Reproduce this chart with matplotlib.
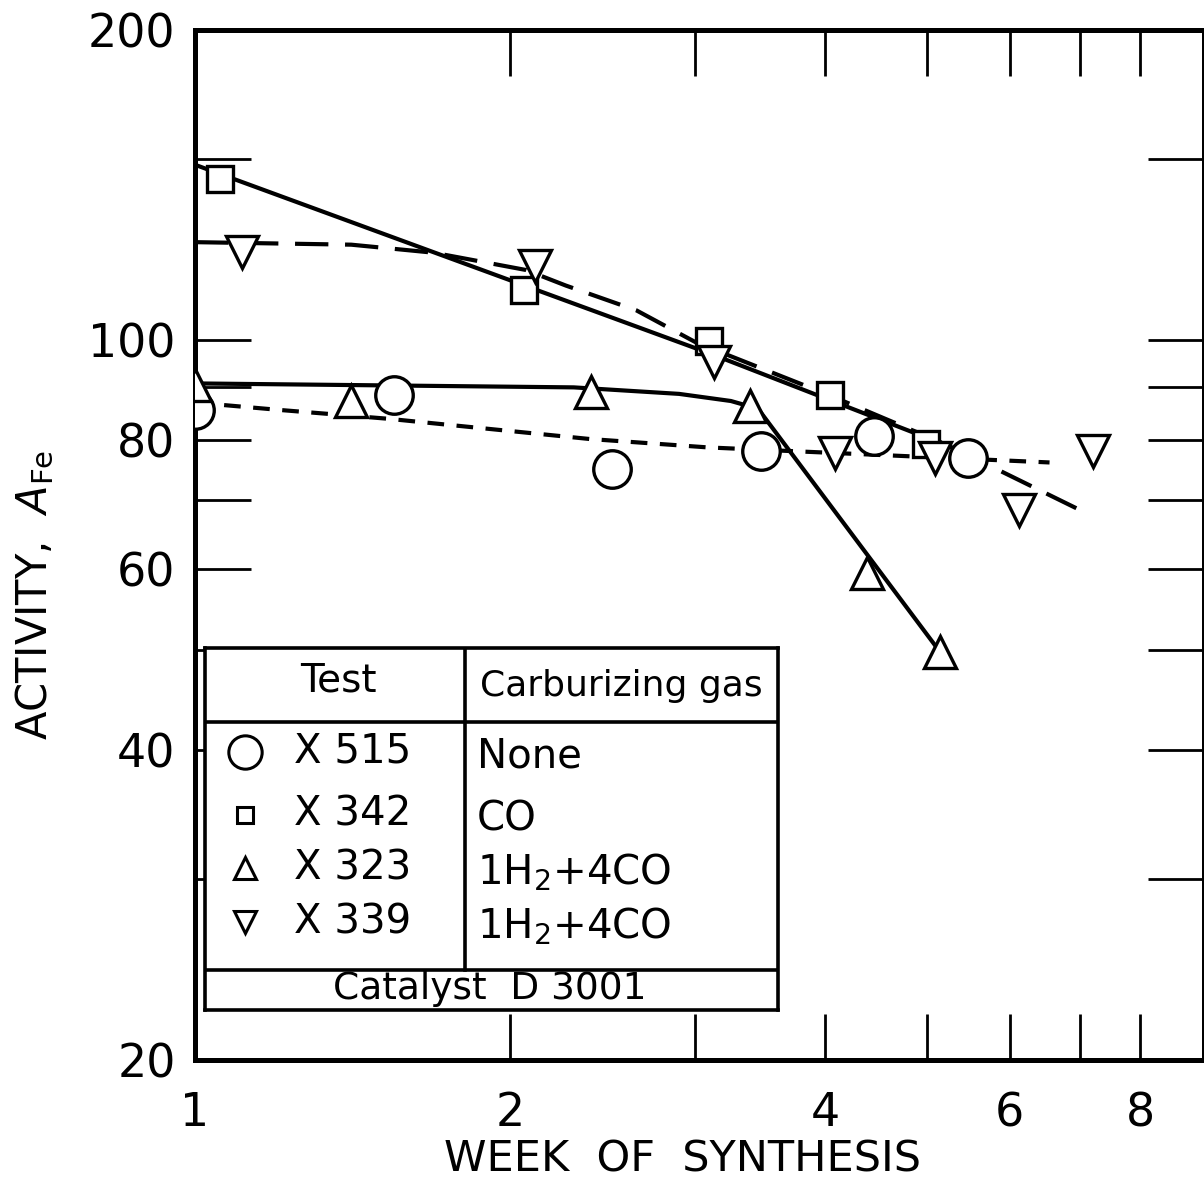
import matplotlib
matplotlib.use("Agg")
import matplotlib.pyplot as plt
from matplotlib.ticker import FixedLocator, FixedFormatter, NullLocator

plt.rcParams['font.family'] = ['DejaVu Sans']
plt.rcParams['mathtext.fontset'] = 'dejavusans'

# measured points (week, activity)
x515_w = [1.0, 1.55, 2.50, 3.47, 4.45, 5.48]
x515_a = [85.5, 88.4, 75.0, 78.0, 80.8, 76.9]
x342_w = [1.056, 2.06, 3.10, 4.04, 4.99]
x342_a = [143.3, 111.9, 99.8, 88.4, 79.3]
x323_w = [1.0, 1.41, 2.39, 3.39, 4.38, 5.15]
x323_a = [90.4, 87.3, 89.1, 86.3, 59.5, 49.8]
x339_w = [1.109, 2.11, 3.13, 4.09, 5.09, 6.12, 7.20]
x339_a = [121.8, 118.1, 95.2, 77.8, 76.8, 68.5, 78.0]

# hand-drawn curves
c515_w = [1.0, 1.20, 1.53, 2.38, 3.09, 6.55]
c515_a = [87.0, 85.6, 83.9, 80.2, 78.7, 76.1]
c342_w = [1.0, 3.11, 5.3]
c342_a = [148.0, 97.0, 78.6]
c323_w = [1.0, 2.3, 2.9, 3.25, 3.45, 5.15]
c323_a = [90.8, 90.0, 88.7, 87.3, 85.8, 49.8]
c339_w = [1.0, 1.41, 1.69, 2.07, 2.26, 2.64, 3.01, 4.04, 5.25, 7.05]
c339_a = [124.5, 123.8, 121.6, 117.0, 113.0, 106.9, 99.5, 88.4, 79.0, 68.2]

xticks = [1, 2, 3, 4, 5, 6, 7, 8]
xticklabels = ['1', '2', '', '4', '', '6', '', '8']
yticks = [20, 30, 40, 50, 60, 70, 80, 90, 100, 150, 200]
yticklabels = ['20', '', '40', '', '60', '', '80', '', '100', '', '200']

tests = ['X 515', 'X 342', 'X 323', 'X 339']
gases = ['None', 'CO', r'1H$_2$+4CO', r'1H$_2$+4CO']
marks = ['o', 's', '^', 'v']

fig = plt.figure(figsize=(12.04, 12.01), dpi=100)
ax = fig.add_axes([0.162, 0.117, 0.838, 0.858])
ax.set_xscale('log')
ax.set_yscale('log')
ax.set_xlim(1, 9.2)
ax.set_ylim(20, 200)

lw = 3.0
ax.plot(c515_w, c515_a, color='black', lw=lw, dashes=(4, 3), zorder=2)
ax.plot(c342_w, c342_a, color='black', lw=lw, zorder=2)
ax.plot(c323_w, c323_a, color='black', lw=lw, zorder=2)
ax.plot(c339_w, c339_a, color='black', lw=lw, dashes=(8, 4), zorder=2)

mk = dict(ls='none', mfc='white', mec='black', mew=2.4, zorder=3)
ax.plot(x515_w, x515_a, marker='o', ms=27, **mk)
ax.plot(x342_w, x342_a, marker='s', ms=19, **mk)
ax.plot(x323_w, x323_a, marker='^', ms=23, **mk)
ax.plot(x339_w, x339_a, marker='v', ms=23, **mk)

ax.xaxis.set_major_locator(FixedLocator(xticks))
ax.xaxis.set_major_formatter(FixedFormatter(xticklabels))
ax.xaxis.set_minor_locator(NullLocator())
ax.yaxis.set_major_locator(FixedLocator(yticks))
ax.yaxis.set_major_formatter(FixedFormatter(yticklabels))
ax.yaxis.set_minor_locator(NullLocator())
ax.tick_params(axis='x', which='major', direction='in', top=True, bottom=True,
               length=33, width=2, pad=22, labelsize=33)
ax.tick_params(axis='y', which='major', direction='in', left=True, right=True,
               length=40, width=2, pad=14, labelsize=33)
for s in ax.spines.values():
    s.set_linewidth(3.6)

fig.text(683 / 1204, 1 - 1160 / 1201, 'WEEK  OF  SYNTHESIS', ha='center', va='center',
         fontsize=31)
fig.text(35 / 1204, 1 - 595 / 1201, r'ACTIVITY,  $\mathit{A}_{\mathrm{Fe}}$', rotation=90,
         ha='center', va='center', fontsize=30)

# legend table
tb = fig.add_axes([205 / 1204, 1 - 1010 / 1201, 573 / 1204, 362 / 1201])
tb.set_xlim(0, 1)
tb.set_ylim(0, 1)
tb.set_xticks([])
tb.set_yticks([])
for s in tb.spines.values():
    s.set_linewidth(2.6)
tb.axhline(0.796, color='black', lw=2.6)
tb.axhline(0.111, color='black', lw=2.6)
tb.plot([0.454, 0.454], [0.111, 1.0], color='black', lw=2.6)
tb.text(0.232, 0.91, 'Test', ha='center', va='center', fontsize=28)
tb.text(0.727, 0.895, 'Carburizing gas', ha='center', va='center', fontsize=26)
rows_y = [0.713, 0.539, 0.392, 0.243]
msz = [24, 12, 16, 16]
for yy, t, g, m, s in zip(rows_y, tests, gases, marks, msz):
    tb.plot([0.07], [yy], marker=m, ms=s, mfc='white', mec='black', mew=2.2, ls='none')
    tb.text(0.155, yy, t, ha='left', va='center', fontsize=29)
    tb.text(0.475, yy - 0.012, g, ha='left', va='center', fontsize=29)
tb.text(0.497, 0.058, 'Catalyst  D 3001', ha='center', va='center', fontsize=27)

fig.savefig('out.png', dpi=100)
